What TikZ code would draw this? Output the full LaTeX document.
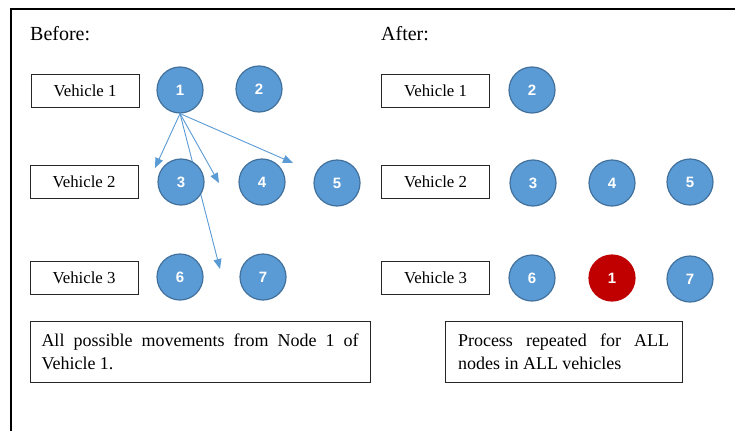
\documentclass[tikz,border=0pt]{standalone}
\usepackage{fontspec}
\setmainfont{Liberation Serif}
\newfontfamily\numfont{Liberation Sans}
\usetikzlibrary{arrows.meta}
\definecolor{nodeblue}{HTML}{5B9BD5}
\definecolor{nodeedge}{HTML}{41719C}
\definecolor{nodered}{HTML}{C00000}
\begin{document}
\begin{tikzpicture}[x=1pt,y=-1pt,
 vbox/.style={draw=black!85, line width=1pt, minimum width=108pt, minimum height=33pt, inner sep=0pt, font=\fontsize{16.8}{19}\selectfont},
 cnode/.style={circle, fill=nodeblue, draw=nodeedge, line width=1.2pt, minimum size=46pt, inner sep=0pt, text=white, font=\numfont\bfseries\fontsize{15}{18}\selectfont},
 rnode/.style={cnode, fill=nodered, draw=nodered},
 note/.style={draw=black!85, line width=1pt, align=justify, inner sep=0pt, minimum height=61pt, font=\fontsize{18}{23}\selectfont\hyphenpenalty10000\relax},
 move/.style={draw=nodeblue, line width=0.9pt, -{Triangle[length=10pt,width=8pt]}},
 head/.style={anchor=base west, inner sep=0pt, font=\fontsize{20}{24}\selectfont}]
\useasboundingbox (0,0) rectangle (735,431);
\fill[white] (0,0) rectangle (735,431);
\draw[line width=2pt] (11,431) -- (11,9) -- (735,9);

% Before
\node[head] (hb) at (30,40) {Before:};
\node[vbox] (bv1) at (85,90.5) {Vehicle 1};
\node[vbox] (bv2) at (84,181.5) {Vehicle 2};
\node[vbox] (bv3) at (84,277.5) {Vehicle 3};
\node[cnode] (b1) at (180,90) {1};
\node[cnode] (b2) at (259,89) {2};
\coordinate (t1) at (155,168);
\coordinate (t2) at (219,183);
\coordinate (t3) at (293,163);
\coordinate (t4) at (220,269);
\draw[move] (b1.south) -- (t1);
\draw[move] (b1.south) -- (t2);
\draw[move] (b1.south) -- (t3);
\draw[move] (b1.south) -- (t4);
\node[cnode] (b3) at (181,182) {3};
\node[cnode] (b4) at (262,182) {4};
\node[cnode] (b5) at (337,183) {5};
\node[cnode] (b6) at (180,277) {6};
\node[cnode] (b7) at (263,277) {7};
\node[note, text width=317pt, minimum width=340pt] (nb) at (200,351.5)
  {All possible movements from Node 1 of\linebreak Vehicle 1.};

% After
\node[head] (ha) at (381,40) {After:};
\node[vbox] (av1) at (435.5,91) {Vehicle 1};
\node[vbox] (av2) at (435.5,181.5) {Vehicle 2};
\node[vbox] (av3) at (435.5,278) {Vehicle 3};
\node[cnode] (a2) at (532,90) {2};
\node[cnode] (a3) at (533,183) {3};
\node[cnode] (a4) at (612,183) {4};
\node[cnode] (a5) at (690,182) {5};
\node[cnode] (a6) at (532,278) {6};
\node[rnode] (a1) at (612,278) {1};
\node[cnode] (a7) at (690,279) {7};
\node[note, text width=211pt, minimum width=237pt] (na) at (563.5,351.5)
  {Process repeated for ALL\linebreak nodes in ALL vehicles};
\end{tikzpicture}
\end{document}
